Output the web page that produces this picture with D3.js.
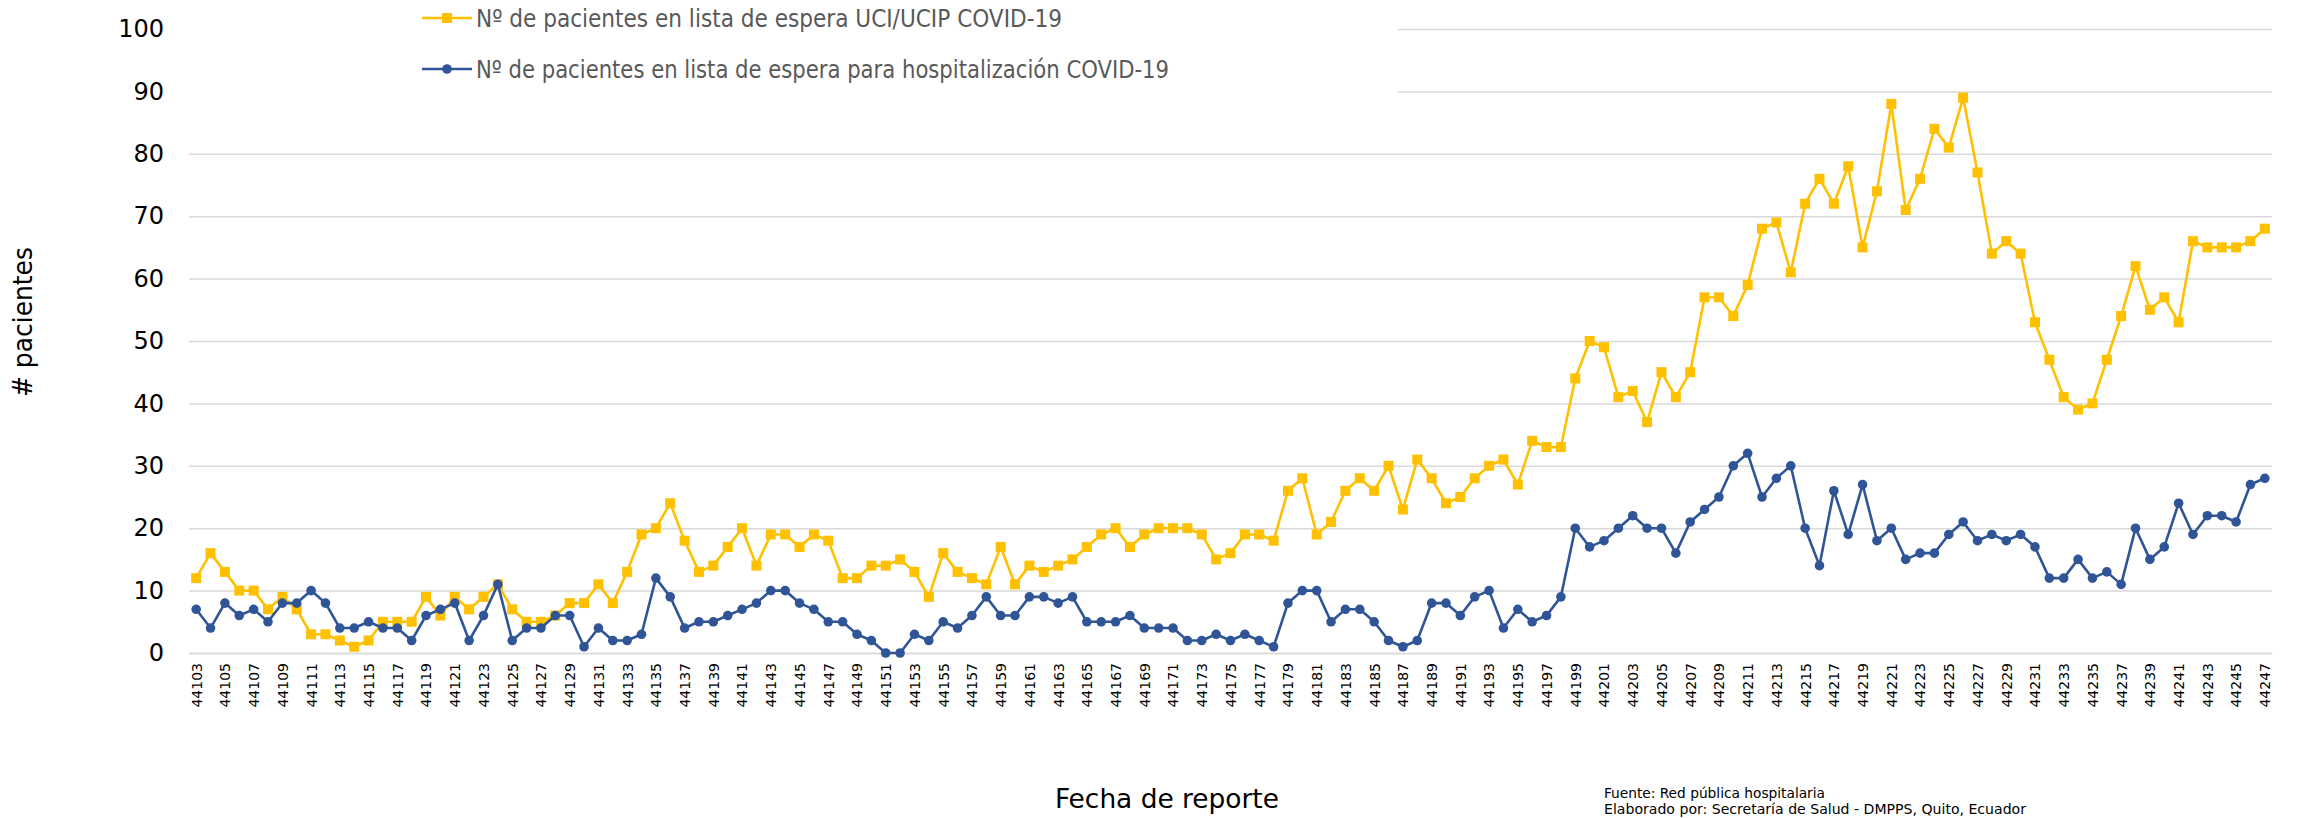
<!DOCTYPE html>
<html><head><meta charset="utf-8">
<script src="https://cdn.jsdelivr.net/npm/d3@7/dist/d3.min.js"></script>
<style>html,body{margin:0;padding:0;background:#fff;}svg{display:block;}</style>
</head><body>
<script>
const categories = [44103,44104,44105,44106,44107,44108,44109,44110,44111,44112,44113,44114,44115,44116,44117,44118,44119,44120,44121,44122,
44123,44124,44125,44126,44127,44128,44129,44130,44131,44132,44133,44134,44135,44136,44137,44138,44139,44140,44141,44142,
44143,44144,44145,44146,44147,44148,44149,44150,44151,44152,44153,44154,44155,44156,44157,44158,44159,44160,44161,44162,
44163,44164,44165,44166,44167,44168,44169,44170,44171,44172,44173,44174,44175,44176,44177,44178,44179,44180,44181,44182,
44183,44184,44185,44186,44187,44188,44189,44190,44191,44192,44193,44194,44195,44196,44197,44198,44199,44200,44201,44202,
44203,44204,44205,44206,44207,44208,44209,44210,44211,44212,44213,44214,44215,44216,44217,44218,44219,44220,44221,44222,
44223,44224,44225,44226,44227,44228,44229,44230,44231,44232,44233,44234,44235,44236,44237,44238,44239,44240,44241,44242,
44243,44244,44245,44246,44247];

const uciValues = [12,16,13,10,10,7,9,7,3,3,2,1,2,5,5,5,9,6,9,7,
9,11,7,5,5,6,8,8,11,8,13,19,20,24,18,13,14,17,20,14,19,
19,17,19,18,12,12,14,14,15,13,9,16,13,12,11,17,11,14,13,14,
15,17,19,20,17,19,20,20,20,19,15,16,19,19,18,26,28,19,21,26,
28,26,30,23,31,28,24,25,28,30,31,27,34,33,33,44,50,49,41,42,
37,45,41,45,57,57,54,59,68,69,61,72,76,72,78,65,74,88,71,76,
84,81,89,77,64,66,64,53,47,41,39,40,47,54,62,55,57,53,66,65,65,65,66,68];

const hospValues = [7,4,8,6,7,5,8,8,10,8,4,4,5,4,4,2,6,7,8,2,
6,11,2,4,4,6,6,1,4,2,2,3,12,9,4,5,5,6,7,8,10,
10,8,7,5,5,3,2,0,0,3,2,5,4,6,9,6,6,9,9,8,
9,5,5,5,6,4,4,4,2,2,3,2,3,2,1,8,10,10,5,7,
7,5,2,1,2,8,8,6,9,10,4,7,5,6,9,20,17,18,20,22,
20,20,16,21,23,25,30,32,25,28,30,20,14,26,19,27,18,20,15,16,
16,19,21,18,19,18,19,17,12,12,15,12,13,11,20,15,17,24,19,22,22,21,27,28];

const yTicks = [0,10,20,30,40,50,60,70,80,90,100];
const xTickLabels = categories.filter((d, i) => i % 2 === 0);

const seriesNames = ["Nº de pacientes en lista de espera UCI/UCIP COVID-19",
                     "Nº de pacientes en lista de espera para hospitalización COVID-19"];
const seriesColors = ["#FFC000", "#2F5597"];
const yTitle = "# pacientes";
const xTitle = "Fecha de reporte";
const sourceLines = ["Fuente: Red pública hospitalaria",
                     "Elaborado por: Secretaría de Salud - DMPPS, Quito, Ecuador"];

const W = 2297, H = 818;
const plot = {left: 189, right: 2272, top: 29, bottom: 653};
const narrow = "'Liberation Sans Narrow','DejaVu Sans Condensed','Liberation Sans',sans-serif";

const svg = d3.select("body").append("svg").attr("width", W).attr("height", H)
  .style("font-family", "'DejaVu Sans', Verdana, sans-serif");

const x = d3.scalePoint().domain(categories).range([plot.left, plot.right]).padding(0.5);
const y = d3.scaleLinear().domain([0, 100]).range([plot.bottom, plot.top]);

// gridlines
const grid = svg.append("g").attr("transform", `translate(${plot.left},0)`)
  .call(d3.axisLeft(y).tickValues(yTicks).tickSize(-(plot.right - plot.left)).tickFormat(""));
grid.select(".domain").remove();
grid.selectAll("line").attr("stroke", "#D9D9D9").attr("stroke-width", 1.5);

// legend background covering the top gridlines
svg.append("rect").attr("x", plot.left - 2).attr("y", 0).attr("width", 1400 - plot.left).attr("height", 97).attr("fill", "#fff");

// y axis labels
const ya = svg.append("g").attr("transform", `translate(${plot.left - 25},0)`)
  .call(d3.axisLeft(y).tickValues(yTicks).tickSize(0).tickPadding(0));
ya.select(".domain").remove();
ya.selectAll("text").attr("font-size", 24).attr("fill", "#000").attr("font-family", "'DejaVu Sans', Verdana, sans-serif");

// x axis labels
const xa = svg.append("g").attr("transform", `translate(0,${plot.bottom})`)
  .call(d3.axisBottom(x).tickValues(xTickLabels).tickSize(0).tickPadding(0));
xa.select(".domain").attr("stroke", "#D9D9D9").attr("stroke-width", 1.5);
xa.selectAll("text")
  .attr("font-size", 14).attr("fill", "#000").attr("font-family", "'DejaVu Sans', Verdana, sans-serif")
  .attr("text-anchor", "end").attr("transform", "translate(0,10) rotate(-90)")
  .attr("x", 0).attr("y", 0).attr("dy", "0.35em");

// lines
const seriesData = [uciValues, hospValues];
const line = d3.line().x((d, i) => x(categories[i])).y(d => y(d));
seriesData.forEach((vals, s) => {
  const g = svg.append("g");
  g.append("path").datum(vals).attr("d", line).attr("fill", "none")
    .attr("stroke", seriesColors[s]).attr("stroke-width", 2.6).attr("stroke-linejoin", "round");
  if (s === 0) {
    g.selectAll("rect").data(vals).join("rect")
      .attr("x", (d, i) => x(categories[i]) - 5).attr("y", d => y(d) - 5)
      .attr("width", 10).attr("height", 10).attr("fill", seriesColors[s]);
  } else {
    g.selectAll("circle").data(vals).join("circle")
      .attr("cx", (d, i) => x(categories[i])).attr("cy", d => y(d)).attr("r", 4.8)
      .attr("fill", seriesColors[s]);
  }
});

// legend
const legY = [18, 69];
const legW = [586, 693];
seriesNames.forEach((name, s) => {
  const g = svg.append("g").attr("transform", `translate(422,${legY[s]})`);
  g.append("line").attr("x1", 0).attr("x2", 50).attr("y1", 0).attr("y2", 0)
    .attr("stroke", seriesColors[s]).attr("stroke-width", 2.6);
  if (s === 0) g.append("rect").attr("x", 20).attr("y", -5).attr("width", 10).attr("height", 10).attr("fill", seriesColors[s]);
  else g.append("circle").attr("cx", 25).attr("cy", 0).attr("r", 4.8).attr("fill", seriesColors[s]);
  g.append("text").attr("x", 54).attr("y", 0).attr("dy", "0.36em")
    .attr("font-size", 25).attr("fill", "#595959").attr("font-family", narrow)
    .attr("textLength", legW[s]).attr("lengthAdjust", "spacingAndGlyphs")
    .text(name);
});

// axis titles
svg.append("text").attr("transform", "translate(32,322) rotate(-90)")
  .attr("text-anchor", "middle").attr("font-size", 26).attr("fill", "#000")
  .attr("font-family", narrow)
  .attr("textLength", 150).attr("lengthAdjust", "spacingAndGlyphs")
  .text(yTitle);

svg.append("text").attr("x", 1055).attr("y", 808)
  .attr("font-size", 27).attr("fill", "#000").attr("font-family", narrow)
  .attr("textLength", 224).attr("lengthAdjust", "spacingAndGlyphs")
  .text(xTitle);

// source
const srcW = [221, 422];
sourceLines.forEach((t, i) => {
  svg.append("text").attr("x", 1604).attr("y", 798 + i * 15.5)
    .attr("font-size", 14).attr("fill", "#000").attr("font-family", narrow)
    .attr("textLength", srcW[i]).attr("lengthAdjust", "spacingAndGlyphs")
    .text(t);
});
</script>
</body></html>
